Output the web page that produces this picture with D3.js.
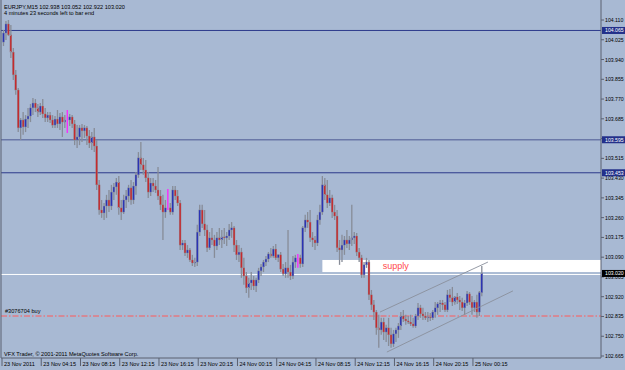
<!DOCTYPE html>
<html><head><meta charset="utf-8">
<script src="https://cdn.jsdelivr.net/npm/d3@7"></script>
<style>body{margin:0;background:#a8b9d3;} svg{display:block}</style>
</head><body><svg id="c" width="625" height="370"></svg>
<script>
const titleText = "EURJPY,M15  102.938 103.052 102.922 103.020";
const subText = "4 minutes 23 seconds left to bar end";
const copyText = "VFX Trader, \u00A9 2001-2011 MetaQuotes Software Corp.";

const open = [104.015,104.054,104.093,104.046,103.972,103.874,103.809,103.646,103.680,103.650,
103.684,103.697,103.732,103.753,103.732,103.714,103.740,103.706,103.689,103.701,
103.680,103.658,103.684,103.663,103.693,103.671,103.680,103.680,103.693,103.663,
103.594,103.607,103.646,103.633,103.646,103.611,103.581,103.607,103.568,103.401,
103.293,103.280,103.310,103.336,103.310,103.370,103.392,103.413,103.302,103.284,
103.336,103.353,103.388,103.336,103.396,103.444,103.517,103.487,103.465,103.431,
103.370,103.409,103.396,103.379,103.353,103.315,103.284,103.302,103.302,103.284,
103.379,103.353,103.323,103.142,103.151,103.108,103.121,103.078,103.065,103.069,
103.198,103.293,103.233,103.207,103.130,103.173,103.164,103.138,103.173,103.164,
103.177,103.173,103.181,103.207,103.216,103.142,103.100,103.112,103.044,103.009,
102.958,102.979,102.992,102.966,102.992,103.031,103.048,103.069,103.082,103.104,
103.095,103.125,103.087,103.100,103.039,103.018,103.044,103.026,103.009,103.069,
103.087,103.087,103.061,103.216,103.250,103.241,103.173,103.164,103.151,103.250,
103.284,103.401,103.358,103.323,103.345,103.284,103.267,103.130,103.121,103.142,
103.164,103.147,103.164,103.173,103.181,103.112,103.087,103.014,103.057,103.069,
102.928,102.885,102.854,102.786,102.777,102.811,102.768,102.786,102.756,102.717,
102.760,102.777,102.794,102.837,102.824,102.816,102.811,102.803,102.794,102.837,
102.872,102.846,102.837,102.829,102.833,102.829,102.854,102.872,102.889,102.893,
102.885,102.863,102.928,102.915,102.897,102.919,102.906,102.897,102.872,102.893,
102.932,102.897,102.872,102.897,102.854,102.938];
const high = [104.067,104.106,104.110,104.089,103.990,103.895,103.818,103.689,103.714,103.701,
103.732,103.749,103.775,103.770,103.749,103.753,103.770,103.732,103.714,103.714,
103.701,103.697,103.723,103.710,103.714,103.701,103.723,103.706,103.701,103.680,
103.658,103.658,103.663,103.658,103.654,103.637,103.628,103.646,103.594,103.422,
103.336,103.323,103.358,103.379,103.401,103.409,103.431,103.439,103.336,103.358,
103.379,103.401,103.422,103.413,103.456,103.542,103.585,103.517,103.508,103.456,
103.431,103.431,103.422,103.478,103.379,103.358,103.336,103.383,103.323,103.396,
103.396,103.379,103.336,103.164,103.164,103.142,103.130,103.100,103.087,103.229,
103.315,103.315,103.293,103.229,103.198,103.216,103.186,103.198,103.216,103.207,
103.216,103.198,103.233,103.241,103.224,103.164,103.142,103.130,103.087,103.026,
103.001,103.026,103.009,103.001,103.044,103.061,103.078,103.095,103.112,103.130,
103.138,103.147,103.104,103.112,103.061,103.069,103.207,103.057,103.095,103.100,
103.104,103.100,103.224,103.272,103.284,103.293,103.198,103.181,103.272,103.315,
103.439,103.431,103.422,103.379,103.358,103.315,103.293,103.164,103.186,103.181,
103.207,103.181,103.315,103.198,103.194,103.130,103.100,103.069,103.087,103.078,
102.949,102.906,102.863,102.842,102.829,102.829,102.799,102.829,102.786,102.777,
102.786,102.807,102.854,102.863,102.842,102.837,102.842,102.829,102.846,102.893,
102.885,102.872,102.854,102.854,102.850,102.863,102.897,102.897,102.906,102.906,
102.897,102.949,102.953,102.962,102.923,102.936,102.923,102.915,102.906,102.945,
102.940,102.923,102.906,102.928,102.945,103.052];
const low = [103.998,104.024,104.041,103.947,103.852,103.788,103.628,103.594,103.616,103.628,
103.646,103.671,103.701,103.714,103.693,103.701,103.689,103.671,103.671,103.667,
103.646,103.646,103.646,103.637,103.607,103.646,103.624,103.654,103.646,103.572,
103.560,103.572,103.585,103.603,103.572,103.560,103.551,103.542,103.379,103.272,
103.259,103.250,103.259,103.284,103.293,103.336,103.358,103.272,103.250,103.276,
103.302,103.327,103.315,103.319,103.358,103.431,103.465,103.444,103.413,103.345,
103.353,103.370,103.366,103.336,103.293,103.164,103.259,103.293,103.272,103.272,
103.336,103.310,103.121,103.121,103.095,103.087,103.069,103.052,103.048,103.052,
103.181,103.216,103.181,103.112,103.121,103.142,103.087,103.121,103.142,103.130,
103.147,103.138,103.164,103.173,103.112,103.078,103.069,103.001,102.971,102.936,
102.915,102.949,102.949,102.940,102.979,103.009,103.026,103.052,103.069,103.087,
103.087,103.078,103.069,103.026,103.009,103.001,103.001,102.992,102.996,103.044,
103.044,103.044,103.048,103.198,103.216,103.155,103.134,103.121,103.138,103.229,
103.272,103.336,103.302,103.310,103.259,103.250,103.112,103.057,103.069,103.100,
103.130,103.121,103.138,103.147,103.095,103.069,103.001,103.001,103.044,102.906,
102.863,102.820,102.756,102.700,102.756,102.734,102.725,102.708,102.700,102.704,
102.725,102.743,102.777,102.811,102.799,102.803,102.794,102.786,102.786,102.820,
102.829,102.820,102.820,102.811,102.816,102.820,102.829,102.842,102.854,102.863,
102.854,102.854,102.897,102.880,102.885,102.889,102.863,102.859,102.842,102.880,
102.885,102.842,102.854,102.829,102.837,102.922];
const close = [104.054,104.093,104.046,103.972,103.874,103.809,103.646,103.680,103.650,103.684,
103.697,103.732,103.753,103.732,103.714,103.740,103.706,103.689,103.701,103.680,
103.658,103.684,103.663,103.693,103.671,103.680,103.680,103.693,103.663,103.594,
103.607,103.646,103.633,103.646,103.611,103.581,103.607,103.568,103.401,103.293,
103.280,103.310,103.336,103.310,103.370,103.392,103.413,103.302,103.284,103.336,
103.353,103.388,103.336,103.396,103.444,103.517,103.487,103.465,103.431,103.370,
103.409,103.396,103.379,103.353,103.315,103.284,103.302,103.302,103.284,103.379,
103.353,103.323,103.142,103.151,103.108,103.121,103.078,103.065,103.069,103.198,
103.293,103.233,103.207,103.130,103.173,103.164,103.138,103.173,103.164,103.177,
103.173,103.181,103.207,103.216,103.142,103.100,103.112,103.044,103.009,102.958,
102.979,102.992,102.966,102.992,103.031,103.048,103.069,103.082,103.104,103.095,
103.125,103.087,103.100,103.039,103.018,103.044,103.026,103.009,103.069,103.087,
103.087,103.061,103.216,103.250,103.241,103.173,103.164,103.151,103.250,103.284,
103.401,103.358,103.323,103.345,103.284,103.267,103.130,103.121,103.142,103.164,
103.147,103.164,103.173,103.181,103.112,103.087,103.014,103.057,103.069,102.928,
102.885,102.854,102.786,102.777,102.811,102.768,102.786,102.756,102.717,102.760,
102.777,102.794,102.837,102.824,102.816,102.811,102.803,102.794,102.837,102.872,
102.846,102.837,102.829,102.833,102.829,102.854,102.872,102.889,102.893,102.885,
102.863,102.928,102.915,102.897,102.919,102.906,102.897,102.872,102.893,102.932,
102.897,102.872,102.897,102.854,102.938,103.020];

const timeLabels = ["23 Nov 2011","23 Nov 04:15","23 Nov 08:15","23 Nov 12:15","23 Nov 16:15","23 Nov 20:15",
  "24 Nov 00:15","24 Nov 04:15","24 Nov 08:15","24 Nov 12:15","24 Nov 16:15","24 Nov 20:15","25 Nov 00:15"];
const timeLabelBars = [0,16,32,48,64,80,96,112,128,144,160,176,192];
const priceTicks = [104.110,104.025,103.940,103.855,103.770,103.685,103.600,103.515,103.430,103.345,
  103.260,103.175,103.090,103.005,102.920,102.835,102.750,102.665];
const levelLines = [104.065, 103.595, 103.453];
const bidPrice = 103.020;
const supplyTop = 103.078, supplyBottom = 103.026, supplyStartBar = 130;
const supplyLabel = "supply";
const orderPrice = 102.837;
const orderLabel = "#3076704 buy";
const channelUpper = [[153.5, 102.854], [197.5, 103.069]];
const channelLower = [[156.3, 102.682], [207.7, 102.945]];

const W = 625, H = 370;
const plotL = 1, plotR = 601, plotT = 0, plotB = 358;
const svg = d3.select("#c");
const x = d3.scaleLinear().domain([0, 195]).range([3.5, 481.8]);
const y = d3.scaleLinear().domain([102.665, 104.110]).range([356, 20]);
const FONT = "'Liberation Sans', Arial, sans-serif";

svg.append("rect").attr("width", W).attr("height", H).attr("fill", "#a8b9d3");

// level lines
const lvlStyle = [{c:"#2c3a8c",w:1},{c:"#6a78a8",w:1.6},{c:"#2c3a8c",w:1}];
levelLines.forEach((p,i)=>{
  svg.append("line").attr("x1",plotL).attr("x2",plotR).attr("y1",y(p)).attr("y2",y(p))
    .attr("stroke",lvlStyle[i].c).attr("stroke-width",lvlStyle[i].w);
});

// supply zone
svg.append("rect").attr("x", x(supplyStartBar)).attr("y", y(supplyTop))
  .attr("width", plotR - x(supplyStartBar)).attr("height", y(supplyBottom) - y(supplyTop))
  .attr("fill", "#ffffff");

// bid line
svg.append("line").attr("x1",plotL).attr("x2",plotR).attr("y1",y(bidPrice)+1).attr("y2",y(bidPrice)+1)
  .attr("stroke","#ffffff").attr("stroke-width",1);

// order line
svg.append("line").attr("x1",plotL).attr("x2",plotR).attr("y1",y(orderPrice)).attr("y2",y(orderPrice))
  .attr("stroke","#ff5a5a").attr("stroke-width",1).attr("stroke-dasharray","6,2,1.5,2");

// candles
const bars = d3.range(open.length).map(i=>({i,o:open[i],h:high[i],l:low[i],c:close[i]}));
const g = svg.append("g");
g.selectAll("line.w").data(bars).join("line")
  .attr("x1",d=>x(d.i)).attr("x2",d=>x(d.i)).attr("y1",d=>y(d.h)).attr("y2",d=>y(d.l))
  .attr("stroke",d=>d.o===d.c?"#ff22ff":"#878c97").attr("stroke-width",1.3);
g.selectAll("rect.b").data(bars.filter(d=>d.o!==d.c)).join("rect")
  .attr("x",d=>x(d.i)-0.95).attr("width",1.9)
  .attr("y",d=>y(Math.max(d.o,d.c))).attr("height",d=>Math.max(1,Math.abs(y(d.o)-y(d.c))))
  .attr("fill",d=>d.c>d.o?"#2a33b5":"#c52a2e")
  .attr("stroke","#8d929c").attr("stroke-width",0.35);

// channel
[channelUpper, channelLower].forEach(seg=>{
  svg.append("line").attr("x1",x(seg[0][0])).attr("y1",y(seg[0][1]))
    .attr("x2",x(seg[1][0])).attr("y2",y(seg[1][1]))
    .attr("stroke","#8a909c").attr("stroke-width",0.9);
});

// supply label
svg.append("text").attr("x", x(154.6)).attr("y", y(103.040)).text(supplyLabel)
  .attr("font-family",FONT).attr("font-size",9).attr("fill","#ff4a4a");

// order label
svg.append("text").attr("x",5).attr("y",y(orderPrice)-3).text(orderLabel)
  .attr("font-family",FONT).attr("font-size",5.6).attr("fill","#000");

// frame
svg.append("path").attr("d",`M${plotL},${plotT}V${plotB}H${plotR}V${plotT}`)
  .attr("fill","none").attr("stroke","#5a6070").attr("stroke-width",1);

// texts
svg.append("text").attr("x",4).attr("y",8.5).text(titleText).attr("font-family",FONT).attr("font-size",5.6).attr("fill","#000");
svg.append("text").attr("x",4).attr("y",15).text(subText).attr("font-family",FONT).attr("font-size",5.6).attr("fill","#000");
svg.append("text").attr("x",4).attr("y",355.5).text(copyText).attr("font-family",FONT).attr("font-size",5.6).attr("fill","#000");

// y axis
const ya = svg.append("g");
priceTicks.forEach(p=>{
  ya.append("line").attr("x1",plotR).attr("x2",plotR+3).attr("y1",y(p)).attr("y2",y(p)).attr("stroke","#5a6070");
  ya.append("text").attr("x",605).attr("y",y(p)+2).text(p.toFixed(3))
    .attr("font-family",FONT).attr("font-size",5.2).attr("fill","#000");
});
// price boxes
const boxes = levelLines.map(p=>({p,bg:"#23308a"})).concat([{p:bidPrice,bg:"#000000"}]);
boxes.forEach(b=>{
  ya.append("rect").attr("x",plotR+1).attr("y",y(b.p)-3.5).attr("width",W-plotR-1).attr("height",7).attr("fill",b.bg);
  ya.append("text").attr("x",605).attr("y",y(b.p)+2).text(b.p.toFixed(3))
    .attr("font-family",FONT).attr("font-size",5.2).attr("fill","#fff");
});

// x axis
timeLabelBars.forEach((b,k)=>{
  const xx = x(b) - 1.5;
  svg.append("line").attr("x1",xx).attr("x2",xx).attr("y1",plotB).attr("y2",plotB+8).attr("stroke","#5a6070");
  svg.append("text").attr("x",xx+2).attr("y",366).text(timeLabels[k])
    .attr("font-family",FONT).attr("font-size",5.5).attr("fill","#000");
});
</script></body></html>
